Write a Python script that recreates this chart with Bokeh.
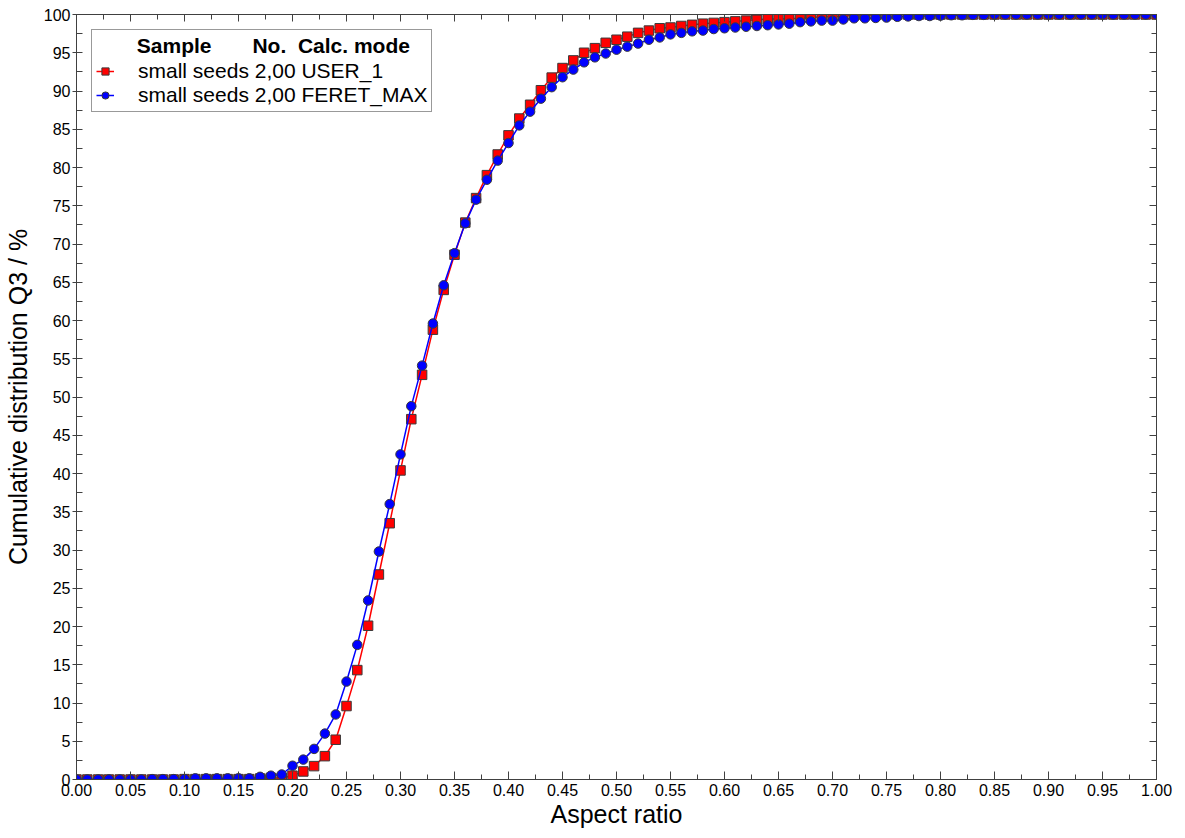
from bokeh.plotting import figure
from bokeh.models import (LinearAxis, SingleIntervalTicker, NumeralTickFormatter,
                          Legend, LegendItem, Range1d, CustomJSTickFormatter)
from bokeh.embed import file_html
from bokeh.resources import INLINE

# ---------------- data ----------------
aspect_ratio = [round(i * 0.01, 2) for i in range(101)]

q3_user1 = [
    0, 0, 0, 0, 0, 0, 0, 0, 0, 0,                          # 0.00-0.09
    0.05, 0.05, 0.05, 0.05, 0.05, 0.05, 0.05, 0.13, 0.2, 0.2,  # 0.10-0.19
    0.5, 1.05, 1.75, 3.05, 5.2, 9.6, 14.3, 20.1, 26.8, 33.5,   # 0.20-0.29
    40.4, 47.1, 52.9, 58.8, 64.0, 68.6, 72.8, 76.0, 79.0, 81.7,  # 0.30-0.39
    84.2, 86.4, 88.2, 90.1, 91.75, 93.0, 94.0, 95.0, 95.6, 96.3,  # 0.40-0.49
    96.7, 97.1, 97.6, 97.9, 98.2, 98.3, 98.5, 98.65, 98.8, 98.9,  # 0.50-0.59
    99.0, 99.1, 99.2, 99.3, 99.4, 99.4, 99.45, 99.5, 99.6, 99.7,  # 0.60-0.69
    99.7, 99.8, 99.9, 99.9, 99.95, 100, 100, 100, 100, 100,      # 0.70-0.79
    100, 100, 100, 100, 100, 100, 100, 100, 100, 100,            # 0.80-0.89
    100, 100, 100, 100, 100, 100, 100, 100, 100, 100,            # 0.90-0.99
    100,                                                         # 1.00
]

q3_feret_max = [
    0, 0, 0, 0, 0, 0, 0, 0.05, 0.05, 0.05,                     # 0.00-0.09
    0.05, 0.15, 0.15, 0.15, 0.15, 0.15, 0.15, 0.35, 0.5, 0.65,   # 0.10-0.19
    1.8, 2.6, 4.0, 6.0, 8.5, 12.8, 17.6, 23.4, 29.8, 36.0,       # 0.20-0.29
    42.5, 48.8, 54.1, 59.6, 64.6, 68.8, 72.7, 75.8, 78.4, 80.9,  # 0.30-0.39
    83.2, 85.5, 87.3, 89.0, 90.5, 91.8, 92.8, 93.75, 94.4, 94.9,  # 0.40-0.49
    95.4, 95.8, 96.2, 96.7, 97.0, 97.4, 97.6, 97.8, 97.9, 98.1,  # 0.50-0.59
    98.2, 98.3, 98.4, 98.5, 98.6, 98.7, 98.8, 99.0, 99.1, 99.2,  # 0.60-0.69
    99.2, 99.35, 99.5, 99.5, 99.55, 99.6, 99.7, 99.75, 99.8, 99.8,  # 0.70-0.79
    99.85, 99.9, 99.9, 99.95, 99.95, 100, 100, 100, 100, 100,    # 0.80-0.89
    100, 100, 100, 100, 100, 100, 100, 100, 100, 100,            # 0.90-0.99
    100,                                                         # 1.00
]

series_labels = ["small seeds 2,00 USER_1", "small seeds 2,00 FERET_MAX"]
legend_header = ["Sample", "No.", "Calc. mode"]
x_axis_title = "Aspect ratio"
y_axis_title = "Cumulative distribution Q3 / %"

# ---------------- styling ----------------
FONT = "Liberation Sans"
AXIS_COLOR = "#404040"
RED = "#ff0000"
BLUE = "#0000ff"
NBSP = "\u00a0"

p = figure(width=1177, height=830, output_backend="svg", toolbar_location=None,
           x_range=Range1d(0, 1), y_range=Range1d(0, 100),
           min_border_left=76, min_border_right=21, min_border_top=14, min_border_bottom=51,
           x_axis_label=x_axis_title, y_axis_label=y_axis_title)
p.xgrid.visible = False
p.ygrid.visible = False
p.outline_line_color = AXIS_COLOR
p.background_fill_color = "white"
p.border_fill_color = "white"

x_ticker = SingleIntervalTicker(interval=0.05, num_minor_ticks=2)
y_ticker = SingleIntervalTicker(interval=5, num_minor_ticks=2)

xa = p.xaxis[0]
xa.ticker = x_ticker
xa.formatter = NumeralTickFormatter(format="0.00")
xa.major_tick_in = 8
xa.major_tick_out = 0
xa.minor_tick_in = 5
xa.minor_tick_out = 0
xa.major_label_standoff = 4
xa.axis_label_standoff = 1

ya = p.yaxis[0]
ya.ticker = y_ticker
ya.major_tick_out = 4
ya.major_tick_in = 0
ya.minor_tick_in = 6
ya.minor_tick_out = 0
ya.major_label_standoff = 2
ya.axis_label_standoff = 9

for ax in (xa, ya):
    ax.axis_line_color = AXIS_COLOR
    ax.major_tick_line_color = AXIS_COLOR
    ax.minor_tick_line_color = AXIS_COLOR
    ax.major_label_text_font = FONT
    ax.major_label_text_font_size = "16px"
    ax.major_label_text_color = "black"
    ax.axis_label_text_font = FONT
    ax.axis_label_text_font_size = "25px"
    ax.axis_label_text_font_style = "normal"
    ax.axis_label_text_color = "black"

blank = CustomJSTickFormatter(code="return ''")
top = LinearAxis(ticker=SingleIntervalTicker(interval=0.05, num_minor_ticks=2),
                 formatter=blank, major_tick_in=7, major_tick_out=0,
                 minor_tick_in=5, minor_tick_out=0, major_label_standoff=0,
                 axis_line_color=AXIS_COLOR, major_tick_line_color=AXIS_COLOR,
                 minor_tick_line_color=AXIS_COLOR, major_label_text_font_size="1px")
right = LinearAxis(ticker=SingleIntervalTicker(interval=5, num_minor_ticks=2),
                   formatter=blank, major_tick_in=7, major_tick_out=0,
                   minor_tick_in=5, minor_tick_out=0, major_label_standoff=0,
                   axis_line_color=AXIS_COLOR, major_tick_line_color=AXIS_COLOR,
                   minor_tick_line_color=AXIS_COLOR, major_label_text_font_size="1px")
p.add_layout(top, "above")
p.add_layout(right, "right")

# ---------------- series ----------------
r_line = p.line(aspect_ratio, q3_user1, line_color=RED, line_width=1.5)
r_pts = p.scatter(aspect_ratio, q3_user1, marker="square", size=9.5,
                  fill_color=RED, line_color="#3a3a3a", line_width=1)
b_line = p.line(aspect_ratio, q3_feret_max, line_color=BLUE, line_width=1.5)
b_pts = p.scatter(aspect_ratio, q3_feret_max, marker="circle", size=9.5,
                  fill_color=BLUE, line_color="#3a3a3a", line_width=1)

# header row of the legend, columns aligned with the entry text below
header_text = (NBSP * 7 + legend_header[0] + NBSP * 7 + legend_header[1]
               + NBSP * 2 + legend_header[2])

legend = Legend(items=[LegendItem(label=series_labels[0], renderers=[r_line, r_pts]),
                       LegendItem(label=series_labels[1], renderers=[b_line, b_pts])],
                location="top_left", margin=15, padding=4, spacing=0,
                glyph_width=18, glyph_height=20, label_standoff=24,
                label_text_font=FONT, label_text_font_size="21px", label_text_color="black",
                title=header_text, title_text_font=FONT, title_text_font_size="21px",
                title_text_font_style="bold", title_text_color="black", title_standoff=1,
                border_line_color="#333333", border_line_width=1,
                background_fill_color="white", background_fill_alpha=1)
p.add_layout(legend)

open("out.html", "w").write(file_html(p, INLINE))
